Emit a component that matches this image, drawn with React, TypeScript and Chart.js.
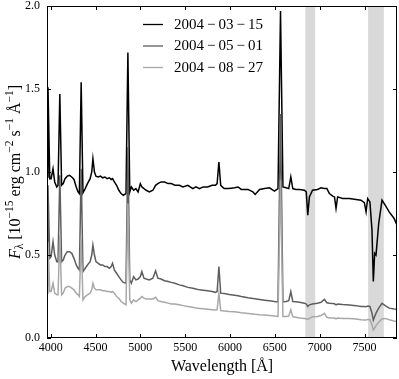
import React, { useEffect, useRef } from "react";
import { Chart, registerables } from "chart.js";

Chart.register(...registerables);

const SERIF = "'Liberation Serif', 'Times New Roman', serif";

// Wavelength grid [Å]
const wavelength = [
  3960, 3970, 3990, 4005, 4026, 4045, 4068, 4082, 4102, 4122, 4140, 4160, 4185, 4210, 4235, 4260,
  4285, 4305, 4320, 4340, 4360, 4385, 4410, 4440, 4458, 4471, 4488, 4505, 4530, 4555, 4580, 4605,
  4630, 4655, 4675, 4690, 4710, 4735, 4760, 4785, 4810, 4840, 4861, 4882, 4900, 4925, 4950, 4975,
  5000, 5017, 5040, 5065, 5100, 5140, 5170, 5195, 5230, 5270, 5310, 5345, 5385, 5435, 5475, 5530,
  5585, 5620, 5660, 5700, 5750, 5800, 5838, 5856, 5876, 5896, 5935, 5990, 6050, 6090, 6125, 6200,
  6255, 6280, 6330, 6385, 6440, 6495, 6535, 6563, 6590, 6625, 6655, 6678, 6700, 6735, 6775, 6830,
  6850, 6867, 6885, 6920, 6975, 7015, 7052, 7080, 7108, 7145, 7165, 7182, 7200, 7255, 7330, 7405,
  7460, 7498, 7517, 7535, 7560, 7583, 7598, 7613, 7628, 7658, 7695, 7730, 7775, 7830, 7862,
];

// F_lambda [1e-15 erg cm^-2 s^-1 Å^-1]
const flux20040315 = [
  0.97, 1.51, 0.96, 0.96, 1.02, 0.94, 0.91, 0.92, 1.47, 0.92, 0.93, 0.96, 0.975, 0.98, 0.97, 0.955,
  0.91, 0.88, 0.87, 1.54, 0.875, 0.90, 0.93, 0.96, 1.00, 1.08, 1.00, 0.975, 0.97, 0.975, 0.965, 0.97,
  0.96, 0.965, 0.955, 0.96, 0.94, 0.92, 0.89, 0.87, 0.86, 0.87, 1.72, 0.88, 0.91, 0.89, 0.90, 0.88,
  0.93, 0.91, 0.90, 0.89, 0.88, 0.89, 0.92, 0.93, 0.94, 0.94, 0.93, 0.93, 0.92, 0.92, 0.91, 0.92,
  0.90, 0.91, 0.90, 0.91, 0.91, 0.92, 0.92, 0.93, 1.06, 0.92, 0.90, 0.90, 0.905, 0.91, 0.895, 0.895,
  0.88, 0.865, 0.895, 0.90, 0.905, 0.885, 0.90, 1.97, 0.91, 0.905, 0.90, 0.97, 0.90, 0.895, 0.895, 0.89,
  0.88, 0.74, 0.85, 0.89, 0.895, 0.905, 0.90, 0.90, 0.87, 0.855, 0.85, 0.78, 0.85, 0.84, 0.84, 0.835,
  0.83, 0.815, 0.76, 0.84, 0.82, 0.65, 0.34, 0.51, 0.50, 0.69, 0.83, 0.80, 0.76, 0.72, 0.68,
];

const flux20040501 = [
  0.32, 0.92, 0.48, 0.49, 0.58, 0.50, 0.46, 0.46, 0.98, 0.46, 0.47, 0.50, 0.52, 0.52, 0.51, 0.48,
  0.44, 0.42, 0.41, 1.02, 0.40, 0.42, 0.44, 0.46, 0.50, 0.56, 0.50, 0.46, 0.45, 0.44, 0.44, 0.43,
  0.43, 0.42, 0.43, 0.45, 0.41, 0.39, 0.37, 0.35, 0.335, 0.33, 1.15, 0.35, 0.33, 0.37, 0.35, 0.355,
  0.37, 0.40, 0.36, 0.355, 0.35, 0.36, 0.405, 0.36, 0.355, 0.345, 0.34, 0.335, 0.33, 0.32, 0.315, 0.305,
  0.30, 0.295, 0.29, 0.288, 0.284, 0.28, 0.275, 0.28, 0.43, 0.27, 0.268, 0.262, 0.258, 0.255, 0.25, 0.242,
  0.238, 0.236, 0.232, 0.228, 0.224, 0.22, 0.218, 1.35, 0.218, 0.22, 0.225, 0.28, 0.22, 0.218, 0.215, 0.21,
  0.205, 0.19, 0.20, 0.205, 0.21, 0.215, 0.233, 0.212, 0.21, 0.208, 0.206, 0.20, 0.205, 0.202, 0.199, 0.195,
  0.19, 0.19, 0.188, 0.193, 0.19, 0.15, 0.108, 0.13, 0.15, 0.18, 0.209, 0.195, 0.18, 0.175, 0.173,
];

const flux20040827 = [
  0.27, 0.58, 0.28, 0.28, 0.33, 0.27, 0.26, 0.26, 0.62, 0.26, 0.27, 0.30, 0.31, 0.31, 0.30, 0.29,
  0.27, 0.26, 0.25, 0.60, 0.23, 0.25, 0.26, 0.27, 0.29, 0.33, 0.30, 0.29, 0.29, 0.29, 0.285, 0.285,
  0.28, 0.28, 0.275, 0.28, 0.27, 0.25, 0.24, 0.22, 0.21, 0.20, 0.81, 0.23, 0.21, 0.23, 0.22, 0.23,
  0.24, 0.25, 0.24, 0.235, 0.235, 0.235, 0.245, 0.225, 0.22, 0.215, 0.21, 0.205, 0.205, 0.20, 0.195, 0.19,
  0.185, 0.18, 0.178, 0.176, 0.173, 0.17, 0.168, 0.17, 0.27, 0.165, 0.163, 0.16, 0.158, 0.155, 0.152, 0.148,
  0.145, 0.143, 0.14, 0.138, 0.135, 0.132, 0.13, 0.95, 0.13, 0.13, 0.132, 0.17, 0.128, 0.125, 0.12, 0.118,
  0.116, 0.112, 0.118, 0.128, 0.13, 0.135, 0.149, 0.125, 0.12, 0.12, 0.12, 0.115, 0.12, 0.118, 0.118, 0.115,
  0.11, 0.108, 0.108, 0.112, 0.11, 0.08, 0.048, 0.06, 0.075, 0.095, 0.115, 0.118, 0.11, 0.102, 0.098,
];

const seriesLabels = [
  "2004\u2009\u2212\u200903\u2009\u2212\u200915",
  "2004\u2009\u2212\u200905\u2009\u2212\u200901",
  "2004\u2009\u2212\u200908\u2009\u2212\u200927",
];
const seriesColors = ["#000000", "#5e5e5e", "#a8a8a8"];

const xTickValues = [4000, 4500, 5000, 5500, 6000, 6500, 7000, 7500];
const yTickValues = [0, 0.5, 1.0, 1.5, 2.0];

// Shaded (telluric) regions [Å]
const bandStart = [6840, 7540];
const bandEnd = [6950, 7715];

const X_MIN = 3959;
const X_MAX = 7862;
const Y_MIN = 0;
const Y_MAX = 2;

type Seg = { t: string; size: number; italic?: boolean; dy: number };

const yTitleSegs: Seg[] = [
  { t: "F", size: 16, italic: true, dy: 0 },
  { t: "\u03bb", size: 11.5, dy: 3.5 },
  { t: " [10", size: 16, dy: 0 },
  { t: "\u221215", size: 11.5, dy: -7 },
  { t: " erg cm", size: 16, dy: 0 },
  { t: "\u22122", size: 11.5, dy: -7 },
  { t: " s", size: 16, dy: 0 },
  { t: "\u22121", size: 11.5, dy: -7 },
  { t: " \u00c5", size: 16, dy: 0 },
  { t: "\u22121", size: 11.5, dy: -7 },
  { t: "]", size: 16, dy: 0 },
];

const decor = {
  id: "decor",
  beforeDatasetsDraw(chart: any) {
    const { ctx, chartArea: a, scales } = chart;
    const x = scales.x;
    ctx.save();
    ctx.fillStyle = "#d9d9d9";
    for (let i = 0; i < bandStart.length; i++) {
      const x0 = x.getPixelForValue(bandStart[i]);
      const x1 = x.getPixelForValue(bandEnd[i]);
      ctx.fillRect(x0, a.top, x1 - x0, a.bottom - a.top);
    }
    ctx.restore();
  },
  afterDraw(chart: any) {
    const { ctx, chartArea: a, scales } = chart;
    const x = scales.x;
    const y = scales.y;
    ctx.save();
    // frame
    ctx.strokeStyle = "#000";
    ctx.lineWidth = 1;
    ctx.strokeRect(a.left + 0.5, a.top + 0.5, a.right - a.left - 1, a.bottom - a.top - 1);
    // inward ticks on all sides
    const tl = 4;
    ctx.beginPath();
    for (const v of xTickValues) {
      const px = Math.round(x.getPixelForValue(v)) + 0.5;
      ctx.moveTo(px, a.bottom);
      ctx.lineTo(px, a.bottom - tl);
      ctx.moveTo(px, a.top);
      ctx.lineTo(px, a.top + tl);
    }
    for (const v of yTickValues) {
      const py = Math.round(y.getPixelForValue(v)) + 0.5;
      ctx.moveTo(a.left, py);
      ctx.lineTo(a.left + tl, py);
      ctx.moveTo(a.right, py);
      ctx.lineTo(a.right - tl, py);
    }
    ctx.stroke();

    // x title
    ctx.fillStyle = "#000";
    ctx.font = `16px ${SERIF}`;
    ctx.textAlign = "center";
    ctx.textBaseline = "alphabetic";
    ctx.fillText("Wavelength [\u00c5]", (a.left + a.right) / 2, 371);

    // y title (rotated, with sub/superscripts)
    ctx.save();
    ctx.translate(19.5, (a.top + a.bottom) / 2);
    ctx.rotate(-Math.PI / 2);
    ctx.textAlign = "left";
    let total = 0;
    const widths: number[] = [];
    for (const s of yTitleSegs) {
      ctx.font = `${s.italic ? "italic " : ""}${s.size}px ${SERIF}`;
      const w = ctx.measureText(s.t).width;
      widths.push(w);
      total += w;
    }
    let cx = -total / 2;
    yTitleSegs.forEach((s, i) => {
      ctx.font = `${s.italic ? "italic " : ""}${s.size}px ${SERIF}`;
      ctx.fillText(s.t, cx, s.dy);
      cx += widths[i];
    });
    ctx.restore();

    // legend
    const lx0 = 143;
    const lx1 = 163;
    const tx = 174;
    const row0 = 24.5;
    const gap = 21.5;
    ctx.font = `15px ${SERIF}`;
    ctx.textAlign = "left";
    ctx.textBaseline = "middle";
    seriesLabels.forEach((lab, i) => {
      const ry = row0 + i * gap;
      ctx.strokeStyle = seriesColors[i];
      ctx.lineWidth = 1.3;
      ctx.beginPath();
      ctx.moveTo(lx0, ry);
      ctx.lineTo(lx1, ry);
      ctx.stroke();
      ctx.fillStyle = "#000";
      ctx.fillText(lab, tx, ry + 0.5);
    });
    ctx.restore();
  },
};

export default function App() {
  const ref = useRef<HTMLCanvasElement>(null);
  useEffect(() => {
    const canvas = ref.current;
    if (!canvas) return;
    const fluxes = [flux20040315, flux20040501, flux20040827];
    const chart = new Chart(canvas, {
      type: "line",
      data: {
        datasets: fluxes.map((f, i) => ({
          label: seriesLabels[i],
          data: wavelength.map((w, j) => ({ x: w, y: f[j] })),
          borderColor: seriesColors[i],
          backgroundColor: seriesColors[i],
          borderWidth: 1.5,
          pointRadius: 0,
          tension: 0,
          fill: false,
          order: 3 - i,
        })),
      },
      options: {
        animation: false,
        responsive: false,
        devicePixelRatio: 1,
        layout: { padding: { left: 0, right: 2, top: 6, bottom: 0 } },
        plugins: { legend: { display: false }, tooltip: { enabled: false } },
        scales: {
          x: {
            type: "linear",
            min: X_MIN,
            max: X_MAX,
            grid: { display: false, drawTicks: false, tickLength: 0 },
            border: { display: false },
            afterBuildTicks: (s: any) => {
              s.ticks = xTickValues.map((v) => ({ value: v }));
            },
            afterFit: (s: any) => {
              s.height = 41;
              s.paddingLeft = 0;
              s.paddingRight = 0;
              s.paddingTop = 0;
              s.paddingBottom = 0;
            },
            ticks: {
              font: { family: SERIF, size: 12 },
              color: "#000",
              padding: 3,
              maxRotation: 0,
              autoSkip: false,
              callback: (v: any) => String(v),
            },
          },
          y: {
            type: "linear",
            min: Y_MIN,
            max: Y_MAX,
            grid: { display: false, drawTicks: false, tickLength: 0 },
            border: { display: false },
            afterBuildTicks: (s: any) => {
              s.ticks = yTickValues.map((v) => ({ value: v }));
            },
            afterFit: (s: any) => {
              s.width = 47;
              s.paddingLeft = 0;
              s.paddingRight = 0;
              s.paddingTop = 0;
              s.paddingBottom = 0;
            },
            ticks: {
              font: { family: SERIF, size: 12 },
              color: "#000",
              padding: 7,
              autoSkip: false,
              callback: (v: any) => Number(v).toFixed(1),
            },
          },
        },
      } as any,
      plugins: [decor],
    });
    return () => chart.destroy();
  }, []);
  return (
    <div style={{ position: "fixed", left: 0, top: 0, width: 399, height: 379, background: "#fff" }}>
      <canvas ref={ref} width={399} height={379} style={{ display: "block", width: 399, height: 379 }} />
    </div>
  );
}
